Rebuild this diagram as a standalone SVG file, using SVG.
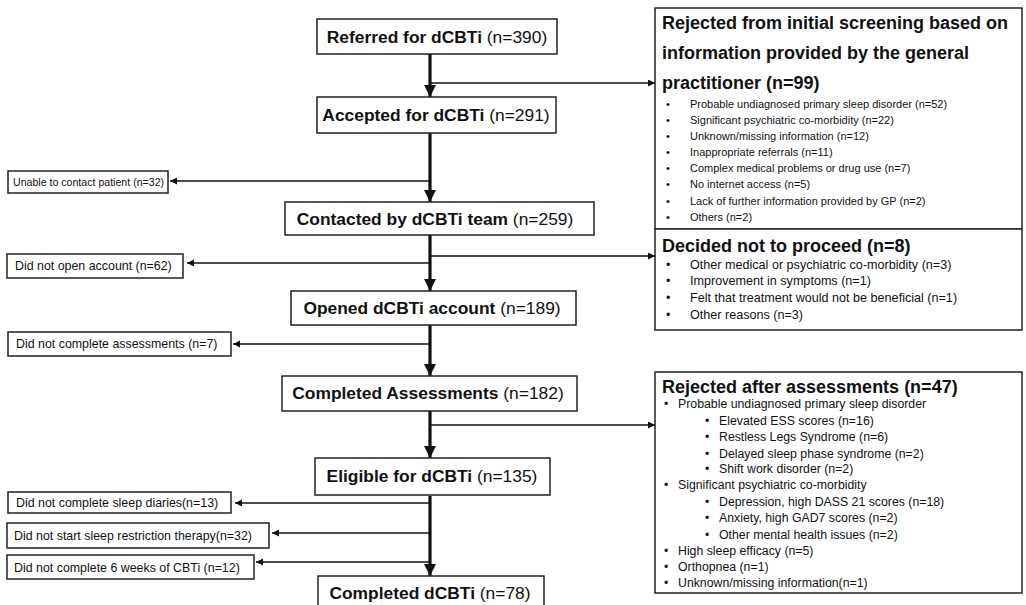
<svg xmlns="http://www.w3.org/2000/svg" width="1026" height="605" viewBox="0 0 1026 605">
<defs>
<marker id="bigHead" markerUnits="userSpaceOnUse" markerWidth="14" markerHeight="14" refX="12" refY="6" orient="auto">
<path d="M0,0 L12,6 L0,12 z" fill="#111"/>
</marker>
<marker id="smallHead" markerUnits="userSpaceOnUse" markerWidth="8" markerHeight="8" refX="7" refY="3.5" orient="auto">
<path d="M0,0 L7,3.5 L0,7 z" fill="#111"/>
</marker>
</defs>
<style>
.box{fill:#fff;stroke:#222;stroke-width:1.5}
.main{stroke:#111;stroke-width:3.2;fill:none}
.branch{stroke:#111;stroke-width:1.4;fill:none}
text{font-family:"Liberation Sans",Arial,sans-serif;fill:#111}
.mt{font-size:17.4px;text-anchor:middle}
.b{font-weight:bold}
.lt{font-size:12.4px}
.ls{font-size:10.6px}
.rt{font-size:18px;font-weight:bold}
.bl1{font-size:11px}
.bl2{font-size:12.6px}
.bl3{font-size:12.3px}
</style>
<rect width="1026" height="605" fill="#fff"/>

<g id="connectors">
<line class="main" x1="430" y1="54" x2="430" y2="97" marker-end="url(#bigHead)"/>
<line class="main" x1="430" y1="133" x2="430" y2="202" marker-end="url(#bigHead)"/>
<line class="main" x1="430" y1="235" x2="430" y2="291" marker-end="url(#bigHead)"/>
<line class="main" x1="430" y1="325" x2="430" y2="376" marker-end="url(#bigHead)"/>
<line class="main" x1="430" y1="411" x2="430" y2="458" marker-end="url(#bigHead)"/>
<line class="main" x1="430" y1="496" x2="430" y2="576" marker-end="url(#bigHead)"/>
<line class="branch" x1="430" y1="83" x2="655" y2="83" marker-end="url(#smallHead)"/>
<line class="branch" x1="430" y1="256" x2="655" y2="256" marker-end="url(#smallHead)"/>
<line class="branch" x1="430" y1="425" x2="655" y2="425" marker-end="url(#smallHead)"/>
<line class="branch" x1="430" y1="181" x2="170" y2="181" marker-end="url(#smallHead)"/>
<line class="branch" x1="430" y1="263" x2="187" y2="263" marker-end="url(#smallHead)"/>
<line class="branch" x1="430" y1="344" x2="233" y2="344" marker-end="url(#smallHead)"/>
<line class="branch" x1="430" y1="503" x2="235" y2="503" marker-end="url(#smallHead)"/>
<line class="branch" x1="430" y1="533" x2="272" y2="533" marker-end="url(#smallHead)"/>
<line class="branch" x1="430" y1="562" x2="256" y2="562" marker-end="url(#smallHead)"/>
</g>

<g id="referred">
<rect class="box" x="317" y="19" width="240" height="35"/>
<text class="mt" x="437" y="43"><tspan class="b">Referred for dCBTi</tspan> (n=390)</text>
</g>
<g id="accepted">
<rect class="box" x="317" y="97" width="239" height="36"/>
<text class="mt" x="436" y="121"><tspan class="b">Accepted for dCBTi</tspan> (n=291)</text>
</g>
<g id="contacted">
<rect class="box" x="285" y="202" width="309" height="33"/>
<text class="mt" x="435" y="225"><tspan class="b">Contacted by dCBTi team</tspan> (n=259)</text>
</g>
<g id="opened">
<rect class="box" x="291" y="291" width="285" height="34"/>
<text class="mt" x="432" y="314"><tspan class="b">Opened dCBTi account</tspan> (n=189)</text>
</g>
<g id="completed-assessments">
<rect class="box" x="282" y="376" width="295" height="35"/>
<text class="mt" x="428" y="399"><tspan class="b">Completed Assessments</tspan> (n=182)</text>
</g>
<g id="eligible">
<rect class="box" x="315" y="458" width="235" height="37"/>
<text class="mt" x="432" y="482"><tspan class="b">Eligible for dCBTi</tspan> (n=135)</text>
</g>
<g id="completed-dcbti">
<rect class="box" x="318" y="576" width="226" height="36"/>
<text class="mt" x="430" y="599"><tspan class="b">Completed dCBTi</tspan> (n=78)</text>
</g>

<g id="unable">
<rect class="box" x="8" y="171" width="160" height="22"/>
<text class="ls" x="13" y="186">Unable to contact patient (n=32)</text>
</g>
<g id="not-open">
<rect class="box" x="7" y="254" width="176" height="24"/>
<text class="lt" x="15" y="270">Did not open account (n=62)</text>
</g>
<g id="not-assess">
<rect class="box" x="8" y="332" width="223" height="24"/>
<text class="lt" x="16" y="348">Did not complete assessments (n=7)</text>
</g>
<g id="not-diaries">
<rect class="box" x="8" y="492" width="223" height="21"/>
<text class="lt" x="16" y="507">Did not complete sleep diaries(n=13)</text>
</g>
<g id="not-restriction">
<rect class="box" x="7" y="523" width="262" height="25"/>
<text class="lt" x="14" y="540">Did not start sleep restriction therapy(n=32)</text>
</g>
<g id="not-6weeks">
<rect class="box" x="7" y="555" width="247" height="24"/>
<text class="lt" x="14" y="572">Did not complete 6 weeks of CBTi (n=12)</text>
</g>

<g id="rejected-initial">
<rect class="box" x="655" y="8" width="367" height="221"/>
<text class="rt" x="662" y="29">Rejected from initial screening based on</text>
<text class="rt" x="662" y="59">information provided by the general</text>
<text class="rt" x="662" y="89">practitioner (n=99)</text>
<g class="bl1">
<text x="666" y="108">•</text><text x="690" y="108">Probable undiagnosed primary sleep disorder (n=52)</text>
<text x="666" y="124">•</text><text x="690" y="124">Significant psychiatric co-morbidity (n=22)</text>
<text x="666" y="140">•</text><text x="690" y="140">Unknown/missing information (n=12)</text>
<text x="666" y="156">•</text><text x="690" y="156">Inappropriate referrals (n=11)</text>
<text x="666" y="172">•</text><text x="690" y="172">Complex medical problems or drug use (n=7)</text>
<text x="666" y="188">•</text><text x="690" y="188">No internet access (n=5)</text>
<text x="666" y="205">•</text><text x="690" y="205">Lack of further information provided by GP (n=2)</text>
<text x="666" y="221">•</text><text x="690" y="221">Others (n=2)</text>
</g>
</g>

<g id="decided">
<rect class="box" x="655" y="229" width="367" height="101"/>
<text class="rt" x="662" y="252">Decided not to proceed (n=8)</text>
<g class="bl2">
<text x="666" y="269">•</text><text x="690" y="269">Other medical or psychiatric co-morbidity (n=3)</text>
<text x="666" y="285">•</text><text x="690" y="285">Improvement in symptoms (n=1)</text>
<text x="666" y="302">•</text><text x="690" y="302">Felt that treatment would not be beneficial (n=1)</text>
<text x="666" y="319">•</text><text x="690" y="319">Other reasons (n=3)</text>
</g>
</g>

<g id="rejected-after">
<rect class="box" x="655" y="372" width="367" height="221"/>
<text class="rt" x="662" y="393">Rejected after assessments (n=47)</text>
<g class="bl3">
<text x="664" y="408">•</text><text x="678" y="408">Probable undiagnosed primary sleep disorder</text>
<text x="705" y="425">•</text><text x="719" y="425">Elevated ESS scores (n=16)</text>
<text x="705" y="441">•</text><text x="719" y="441">Restless Legs Syndrome (n=6)</text>
<text x="705" y="458">•</text><text x="719" y="458">Delayed sleep phase syndrome (n=2)</text>
<text x="705" y="473">•</text><text x="719" y="473">Shift work disorder (n=2)</text>
<text x="664" y="489">•</text><text x="678" y="489">Significant psychiatric co-morbidity</text>
<text x="705" y="506">•</text><text x="719" y="506">Depression, high DASS 21 scores (n=18)</text>
<text x="705" y="522">•</text><text x="719" y="522">Anxiety, high GAD7 scores (n=2)</text>
<text x="705" y="539">•</text><text x="719" y="539">Other mental health issues (n=2)</text>
<text x="664" y="555">•</text><text x="678" y="555">High sleep efficacy (n=5)</text>
<text x="664" y="571">•</text><text x="678" y="571">Orthopnea (n=1)</text>
<text x="664" y="587">•</text><text x="678" y="587">Unknown/missing information(n=1)</text>
</g>
</g>
</svg>
